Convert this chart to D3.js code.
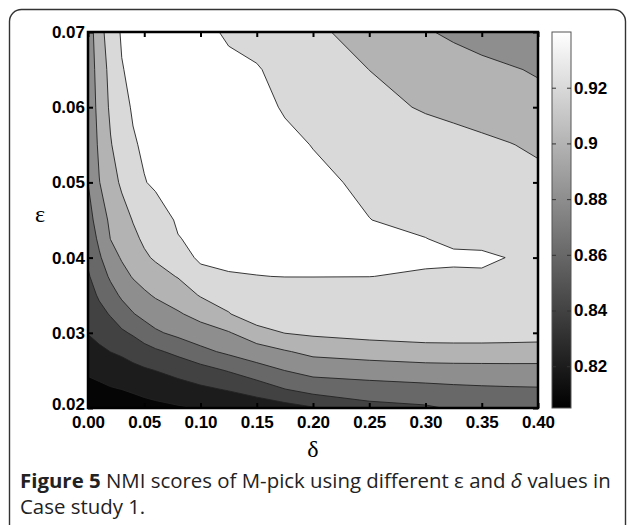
<!DOCTYPE html>
<html>
<head>
<meta charset="utf-8">
<script src="https://cdn.jsdelivr.net/npm/d3@7"></script>
<style>
  body { margin: 0; background: #fff; }
  .axis text { font-family: "Liberation Sans", Arial, sans-serif; font-weight: bold; font-size: 17px; fill: #000; }
  .axis line { stroke: #000; stroke-width: 2; }
  .cbar-axis line { stroke: #333; stroke-width: 1; }
</style>
</head>
<body>
<div id="chart"></div>
<script>
// grid positions of the NMI score table
const deltaValues = [0, 0.01, 0.02, 0.03, 0.04, 0.05, 0.06, 0.08, 0.10, 0.125, 0.15, 0.175, 0.20, 0.25, 0.30, 0.325, 0.35, 0.375, 0.40];
const epsilonValues = [0.02, 0.0225, 0.025, 0.0275, 0.03, 0.0325, 0.035, 0.0375, 0.04, 0.0425, 0.045, 0.05, 0.055, 0.06, 0.065, 0.07];

// NMI scores, one row per epsilon (bottom row first), one column per delta
const nmiScores = [
    [0.795, 0.796, 0.798, 0.799, 0.801, 0.803, 0.805, 0.808, 0.8105, 0.814, 0.818, 0.822, 0.8285, 0.8436, 0.8473, 0.852, 0.855, 0.857, 0.858],
    [0.8039, 0.8058, 0.8085, 0.8102, 0.8126, 0.8155, 0.8176, 0.8215, 0.8264, 0.8316, 0.8388, 0.8497, 0.8578, 0.8613, 0.864, 0.8658, 0.867, 0.8678, 0.8683],
    [0.8129, 0.8161, 0.8194, 0.8214, 0.8246, 0.8276, 0.8302, 0.8365, 0.8427, 0.8514, 0.8621, 0.8702, 0.8766, 0.8798, 0.8824, 0.883, 0.8833, 0.8836, 0.8837],
    [0.822, 0.8264, 0.8302, 0.8332, 0.8378, 0.8423, 0.8468, 0.8549, 0.8649, 0.8739, 0.8812, 0.8884, 0.8952, 0.8987, 0.9012, 0.9015, 0.9015, 0.9013, 0.901],
    [0.8307, 0.8356, 0.8408, 0.8471, 0.8524, 0.86, 0.8671, 0.875, 0.8815, 0.8886, 0.902, 0.9105, 0.9133, 0.917, 0.9198, 0.9201, 0.9201, 0.9195, 0.9186],
    [0.8365, 0.8443, 0.8514, 0.8606, 0.8689, 0.8756, 0.8803, 0.8879, 0.8963, 0.9089, 0.922, 0.9171, 0.9176, 0.9184, 0.9182, 0.9176, 0.9178, 0.9166, 0.9133],
    [0.8422, 0.8525, 0.8625, 0.8731, 0.8809, 0.8868, 0.892, 0.8997, 0.9114, 0.9187, 0.9224, 0.9236, 0.924, 0.9245, 0.9236, 0.9226, 0.9229, 0.9209, 0.9155],
    [0.848, 0.86, 0.8729, 0.8832, 0.8914, 0.8972, 0.9029, 0.911, 0.9226, 0.9279, 0.9298, 0.9302, 0.9302, 0.9301, 0.929, 0.9275, 0.928, 0.9252, 0.9178],
    [0.8529, 0.8675, 0.8817, 0.8918, 0.8981, 0.9073, 0.9122, 0.9201, 0.9338, 0.936, 0.9325, 0.933, 0.9335, 0.932, 0.9315, 0.9325, 0.9325, 0.9295, 0.92],
    [0.8573, 0.8739, 0.8903, 0.8981, 0.906, 0.9128, 0.9183, 0.9295, 0.9325, 0.934, 0.935, 0.935, 0.935, 0.933, 0.9303, 0.927, 0.926, 0.922, 0.919],
    [0.8618, 0.8798, 0.8935, 0.9023, 0.9108, 0.9173, 0.9238, 0.9315, 0.934, 0.936, 0.937, 0.937, 0.936, 0.9302, 0.9262, 0.9241, 0.9221, 0.92, 0.918],
    [0.8702, 0.8894, 0.9021, 0.913, 0.9212, 0.9294, 0.932, 0.935, 0.937, 0.938, 0.938, 0.936, 0.933, 0.9274, 0.9231, 0.921, 0.9188, 0.9167, 0.9145],
    [0.8726, 0.8936, 0.9088, 0.9189, 0.9285, 0.932, 0.935, 0.937, 0.938, 0.938, 0.937, 0.933, 0.9296, 0.9241, 0.9187, 0.916, 0.9133, 0.9106, 0.9074],
    [0.8751, 0.8967, 0.913, 0.9252, 0.9315, 0.934, 0.936, 0.938, 0.938, 0.937, 0.934, 0.9288, 0.9244, 0.9157, 0.9082, 0.9056, 0.903, 0.9005, 0.8979],
    [0.8775, 0.8986, 0.9156, 0.9293, 0.933, 0.936, 0.938, 0.939, 0.938, 0.935, 0.931, 0.9257, 0.9204, 0.9099, 0.9028, 0.8992, 0.8956, 0.892, 0.8877],
    [0.88, 0.901, 0.922, 0.9315, 0.935, 0.938, 0.939, 0.939, 0.936, 0.927, 0.925, 0.9187, 0.9135, 0.9028, 0.8918, 0.8864, 0.881, 0.8755, 0.874],
];

const contourLevels = [0.81, 0.83, 0.85, 0.87, 0.89, 0.91, 0.93];
const colorRange = [0.805, 0.94];
const deltaTicks = [0, 0.05, 0.10, 0.15, 0.20, 0.25, 0.30, 0.35, 0.40];
const epsilonTicks = [0.02, 0.03, 0.04, 0.05, 0.06, 0.07];
const colorbarTicks = [0.82, 0.84, 0.86, 0.88, 0.9, 0.92];

const width = 627;
const height = 525;
const plot = { left: 88, top: 32, right: 538, bottom: 408 };

const svg = d3
    .select('#chart')
    .append('svg')
    .attr('width', width)
    .attr('height', height);

// figure panel border (runs off the bottom)
svg.append('rect')
    .attr('x', 9.5)
    .attr('y', 9.5)
    .attr('width', 616)
    .attr('height', 580)
    .attr('rx', 12)
    .attr('fill', 'none')
    .attr('stroke', '#333')
    .attr('stroke-width', 1.4);

const x = d3.scaleLinear().domain([0, 0.4]).range([plot.left, plot.right]);
const y = d3.scaleLinear().domain([0.02, 0.07]).range([plot.bottom, plot.top]);
const gray = d3.scaleLinear().domain(colorRange).range(['#000', '#fff']).clamp(true);

// grid index -> data value (grid is not evenly spaced)
const deltaAt = d3.scaleLinear().domain(d3.range(deltaValues.length)).range(deltaValues).clamp(true);
const epsilonAt = d3.scaleLinear().domain(d3.range(epsilonValues.length)).range(epsilonValues).clamp(true);

const gridToScreen = d3.geoTransform({
    point: function (px, py) {
        this.stream.point(x(deltaAt(px - 0.5)), y(epsilonAt(py - 0.5)));
    },
});
const path = d3.geoPath(gridToScreen);

const contours = d3
    .contours()
    .size([deltaValues.length, epsilonValues.length])
    .thresholds(contourLevels)(nmiScores.flat());

// each band takes the colormap value in its middle, top band is white
function bandColor(i) {
    const lo = i === 0 ? colorRange[0] : contourLevels[i - 1];
    const hi = i === contourLevels.length ? colorRange[1] : contourLevels[i];
    return gray(i === contourLevels.length ? hi : (lo + hi) / 2);
}

const defs = svg.append('defs');
defs.append('clipPath')
    .attr('id', 'plot-clip')
    .append('rect')
    .attr('x', plot.left)
    .attr('y', plot.top)
    .attr('width', plot.right - plot.left)
    .attr('height', plot.bottom - plot.top);

const area = svg.append('g').attr('clip-path', 'url(#plot-clip)');

area.append('rect')
    .attr('x', plot.left)
    .attr('y', plot.top)
    .attr('width', plot.right - plot.left)
    .attr('height', plot.bottom - plot.top)
    .attr('fill', bandColor(0));

area.selectAll('path.band')
    .data(contours)
    .join('path')
    .attr('class', 'band')
    .attr('d', path)
    .attr('fill', (d, i) => bandColor(i + 1));

area.selectAll('path.isoline')
    .data(contours)
    .join('path')
    .attr('class', 'isoline')
    .attr('d', path)
    .attr('fill', 'none')
    .attr('stroke', '#222')
    .attr('stroke-width', 0.9)
    .attr('stroke-linejoin', 'round');

// axes, ticks inside the box
const fmt2 = d3.format('.2f');
const noDomain = (g) => g.select('.domain').remove();

svg.append('g')
    .attr('class', 'axis')
    .attr('transform', `translate(0,${plot.bottom})`)
    .call(d3.axisBottom(x).tickValues(deltaTicks).tickFormat(fmt2).tickSize(-5).tickPadding(8))
    .call(noDomain);

svg.append('g')
    .attr('class', 'axis')
    .attr('transform', `translate(0,${plot.top})`)
    .call(d3.axisTop(x).tickValues(deltaTicks).tickFormat('').tickSize(-5))
    .call(noDomain);

svg.append('g')
    .attr('class', 'axis')
    .attr('transform', `translate(${plot.left},0)`)
    .call(d3.axisLeft(y).tickValues(epsilonTicks).tickFormat(fmt2).tickSize(-5).tickPadding(3))
    .call(noDomain)
    // the lowest label sits in the corner next to 0.00, lift it a little
    .call((g) => g.selectAll('.tick text').filter((d) => d === epsilonTicks[0]).attr('dy', '0.1em'));

svg.append('g')
    .attr('class', 'axis')
    .attr('transform', `translate(${plot.right},0)`)
    .call(d3.axisRight(y).tickValues(epsilonTicks).tickFormat('').tickSize(-5))
    .call(noDomain);

svg.append('rect')
    .attr('x', plot.left)
    .attr('y', plot.top)
    .attr('width', plot.right - plot.left)
    .attr('height', plot.bottom - plot.top)
    .attr('fill', 'none')
    .attr('stroke', '#000')
    .attr('stroke-width', 2.5);

// axis titles
svg.append('text')
    .attr('x', 40)
    .attr('y', 222)
    .attr('text-anchor', 'middle')
    .style('font-family', '"Liberation Serif", "DejaVu Serif", serif')
    .style('font-size', '24px')
    .text('ε');

svg.append('text')
    .attr('x', (plot.left + plot.right) / 2)
    .attr('y', 457)
    .attr('text-anchor', 'middle')
    .style('font-family', '"Liberation Serif", "DejaVu Serif", serif')
    .style('font-size', '24px')
    .text('δ');

// colorbar
const cbar = { left: 552, right: 571 };
const cbScale = d3.scaleLinear().domain(colorRange).range([plot.bottom, plot.top]);

const grad = defs.append('linearGradient')
    .attr('id', 'cbar-grad')
    .attr('x1', '0%')
    .attr('y1', '100%')
    .attr('x2', '0%')
    .attr('y2', '0%');
grad.append('stop').attr('offset', '0%').attr('stop-color', gray(colorRange[0]));
grad.append('stop').attr('offset', '100%').attr('stop-color', gray(colorRange[1]));

svg.append('rect')
    .attr('x', cbar.left)
    .attr('y', plot.top)
    .attr('width', cbar.right - cbar.left)
    .attr('height', plot.bottom - plot.top)
    .attr('fill', 'url(#cbar-grad)')
    .attr('stroke', '#555')
    .attr('stroke-width', 1);

svg.append('g')
    .attr('class', 'axis cbar-axis')
    .attr('transform', `translate(${cbar.right},0)`)
    .call(d3.axisRight(cbScale).tickValues(colorbarTicks).tickFormat(d3.format('~g')).tickSize(-4).tickPadding(3))
    .call(noDomain);

svg.append('g')
    .attr('class', 'axis cbar-axis')
    .attr('transform', `translate(${cbar.left},0)`)
    .call(d3.axisLeft(cbScale).tickValues(colorbarTicks).tickFormat('').tickSize(-4))
    .call(noDomain);

// caption
const caption = svg.append('text')
    .style('font-family', '"Open Sans", "Noto Sans", sans-serif')
    .style('font-size', '18px')
    .attr('fill', '#222');

const line1 = caption.append('tspan').attr('x', 20).attr('y', 488);
line1.append('tspan').style('font-weight', 'bold').text('Figure 5');
line1.append('tspan').text(' NMI scores of M-pick using different ε and ');
line1.append('tspan').style('font-style', 'italic').text('δ');
line1.append('tspan').text(' values in');

caption.append('tspan').attr('x', 20).attr('y', 514).text('Case study 1.');

// fit the first caption line to the panel width
const captionWidth = 591;
const measured = caption.node().getBBox().width;
if (measured > 0) {
    caption.style('font-size', `${(18 * captionWidth) / measured}px`);
}
</script>
</body>
</html>
